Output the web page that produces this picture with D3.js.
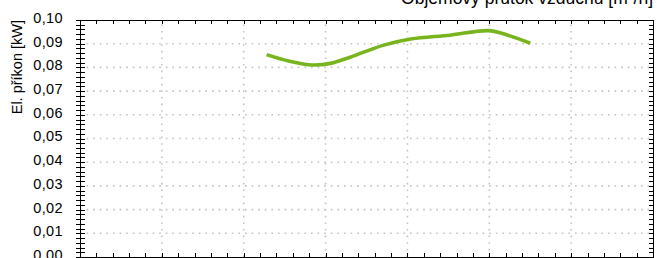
<!DOCTYPE html>
<meta charset="utf-8">
<head>
  <title>El. prikon</title>
</head>

<style>
body { margin: 0; background: #fff; }
text { font-family: "Liberation Sans", Arial, sans-serif; fill: #000; }
.grid line { stroke: #c4c4c4; stroke-width: 1.6; stroke-dasharray: 1.6,5; }
.curve { fill: none; stroke: #78b41e; stroke-width: 3.6; stroke-linecap: butt; }
</style>

<body>
  <svg width="657" height="258"></svg>

  <script src="https://cdnjs.cloudflare.com/ajax/libs/d3/7.8.5/d3.min.js"></script>
  <script>
// flow of air [m3/h] and electric input [kW]
var flow  = [114, 128, 142, 153, 165, 185, 202, 226, 250, 263, 275]
var power = [0.0854, 0.0826, 0.0810, 0.0817, 0.0843, 0.0893, 0.0920, 0.0936, 0.0955, 0.0932, 0.0902]

var yTicks = [0, 0.01, 0.02, 0.03, 0.04, 0.05, 0.06, 0.07, 0.08, 0.09, 0.10]
var xTicks = [0, 50, 100, 150, 200, 250, 300, 350]

var mLeft = 80, mRight = 653, mTop = 20, mBottom = 257

var svg = d3.select('svg')

var x = d3.scaleLinear().domain([0, 350]).range([mLeft, mRight])
var y = d3.scaleLinear().domain([0, 0.1]).range([mBottom, mTop])

// dotted grid
svg.append('g').attr('class', 'grid')
  .selectAll('line.h')
  .data(yTicks.slice(1, -1))
  .enter().append('line')
  .attr('x1', mLeft).attr('x2', mRight)
  .attr('y1', function(d) { return y(d) }).attr('y2', function(d) { return y(d) })

svg.append('g').attr('class', 'grid')
  .selectAll('line.v')
  .data(xTicks.slice(1, -1))
  .enter().append('line')
  .attr('y1', mBottom).attr('y2', mTop)
  .attr('x1', function(d) { return x(d) }).attr('x2', function(d) { return x(d) })

// the curve
var line = d3.line()
  .x(function(d, i) { return x(flow[i]) })
  .y(function(d) { return y(d) })
  .curve(d3.curveCatmullRom.alpha(0.5))

svg.append('path')
  .attr('class', 'curve')
  .attr('d', line(power))

// frame
svg.append('rect')
  .attr('x', mLeft + 0.5).attr('y', mTop + 0.5)
  .attr('width', mRight - mLeft).attr('height', mBottom - mTop)
  .attr('fill', 'none').attr('stroke', '#000').attr('stroke-width', 1)

var yMinor = d3.range(0, 0.1001, 0.002)
var xMinor = d3.range(0, 350.1, 10)

// left axis: ticks crossing the line
svg.append('g').selectAll('line')
  .data(yMinor)
  .enter().append('line')
  .attr('x1', mLeft - 4).attr('x2', mLeft + 5)
  .attr('y1', function(d) { return Math.round(y(d)) + 0.5 })
  .attr('y2', function(d) { return Math.round(y(d)) + 0.5 })
  .attr('stroke', '#000')

// right axis: inward ticks
svg.append('g').selectAll('line')
  .data(yMinor)
  .enter().append('line')
  .attr('x1', mRight - 4).attr('x2', mRight + 0.5)
  .attr('y1', function(d) { return Math.round(y(d)) + 0.5 })
  .attr('y2', function(d) { return Math.round(y(d)) + 0.5 })
  .attr('stroke', '#000')

// top and bottom: inward ticks
svg.append('g').selectAll('line')
  .data(xMinor)
  .enter().append('line')
  .attr('x1', function(d) { return Math.round(x(d)) + 0.5 })
  .attr('x2', function(d) { return Math.round(x(d)) + 0.5 })
  .attr('y1', mTop).attr('y2', mTop + 4)
  .attr('stroke', '#000')

svg.append('g').selectAll('line')
  .data(xMinor)
  .enter().append('line')
  .attr('x1', function(d) { return Math.round(x(d)) + 0.5 })
  .attr('x2', function(d) { return Math.round(x(d)) + 0.5 })
  .attr('y1', mBottom - 4).attr('y2', mBottom + 1)
  .attr('stroke', '#000')

// tick labels
svg.append('g').selectAll('text')
  .data(yTicks)
  .enter().append('text')
  .attr('x', mLeft - 17)
  .attr('y', function(d) { return y(d) })
  .attr('dy', '0.2em')
  .attr('text-anchor', 'end')
  .style('font-size', '14.5px')
  .style('letter-spacing', '0.4px')
  .text(function(d) { return d.toFixed(2).replace('.', ',') })

// axis titles
svg.append('text')
  .attr('transform', 'translate(22,' + mTop + ') rotate(-90)')
  .attr('text-anchor', 'end')
  .style('font-size', '14.5px')
  .text('El. příkon [kW]')

svg.append('text')
  .attr('x', mRight)
  .attr('y', 4)
  .attr('text-anchor', 'end')
  .style('font-size', '17.5px')
  .text('Objemový průtok vzduchu [m³/h]')
  </script>
</body>
</html>
